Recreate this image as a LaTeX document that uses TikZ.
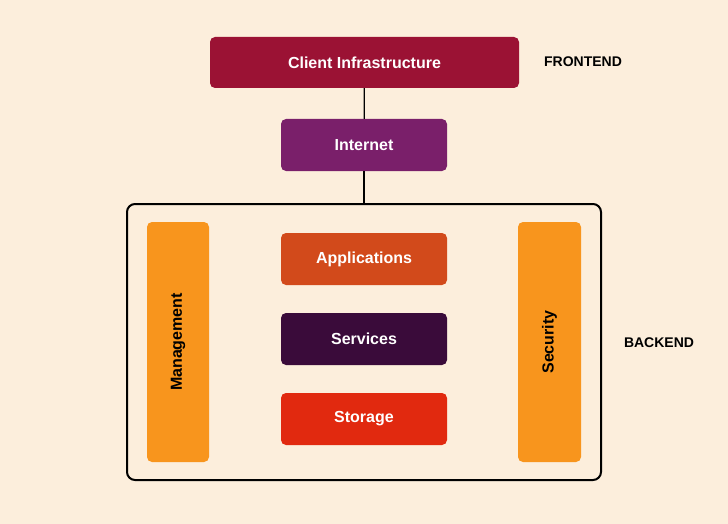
\documentclass[tikz,border=0pt]{standalone}
\usepackage{fontspec}
\setmainfont{Liberation Sans}
\begin{document}
\begin{tikzpicture}[x=1pt,y=-1pt,
  box/.style={rounded corners=5pt,text=white,font=\bfseries\fontsize{16}{18}\selectfont,inner sep=0pt},
  lbl/.style={font=\bfseries\fontsize{14}{16}\selectfont,text=black},
  ln/.style={line width=1.3pt,black}]
\definecolor{bg}{HTML}{FCEEDC}
\definecolor{cli}{HTML}{9B1234}
\definecolor{inet}{HTML}{7A1F6A}
\definecolor{app}{HTML}{D24A1B}
\definecolor{srv}{HTML}{3A0B3A}
\definecolor{sto}{HTML}{E1290F}
\definecolor{org}{HTML}{F8951D}
\fill[bg] (0,0) rectangle (728,524);
\useasboundingbox (0,0) rectangle (728,524);
\draw[line width=2pt,rounded corners=8pt] (127,204) rectangle (601,480);
\node[box,fill=cli,minimum width=309pt,minimum height=51pt] (client) at (364.5,62.5) {Client Infrastructure};
\node[box,fill=inet,minimum width=166pt,minimum height=52pt] (internet) at (364,145) {Internet};
\coordinate (btop) at (364,204);
\node[box,fill=app,minimum width=166pt,minimum height=52pt] (app) at (364,259) {Applications};
\node[box,fill=srv,minimum width=166pt,minimum height=52pt] (srv) at (364,339) {Services};
\node[box,fill=sto,minimum width=166pt,minimum height=52pt] (sto) at (364,419) {Storage};
\node[box,fill=org,text=black,minimum width=62pt,minimum height=240pt] (mgmt) at (178,342) {};
\node[font=\bfseries\fontsize{16}{18}\selectfont,rotate=90] at (mgmt.center) {Management};
\node[box,fill=org,text=black,minimum width=63pt,minimum height=240pt] (sec) at (549.5,342) {};
\node[font=\bfseries\fontsize{16}{18}\selectfont,rotate=90] at (sec.center) {Security};
\node[lbl] (fe) at (583,62) {FRONTEND};
\node[lbl] (be) at (659,343) {BACKEND};
\draw[ln] (client) -- (internet);
\draw[ln] (internet) -- (btop);
\end{tikzpicture}
\end{document}
